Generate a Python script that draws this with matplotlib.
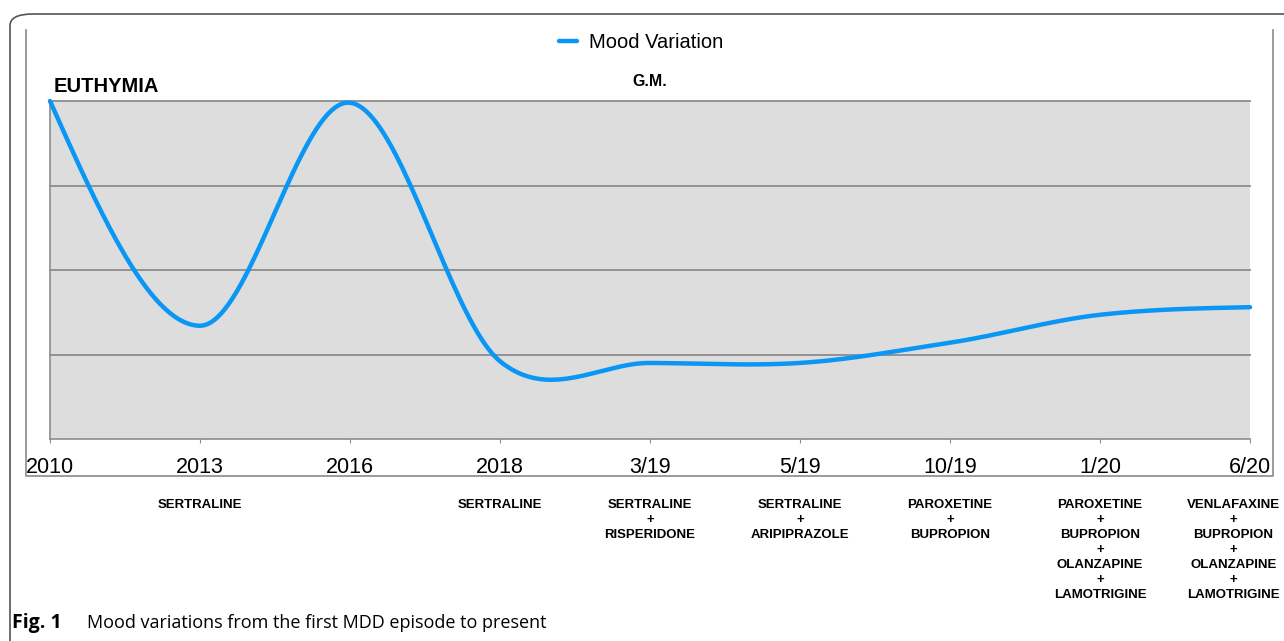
import numpy as np
import matplotlib
matplotlib.use("Agg")
import matplotlib.pyplot as plt
from matplotlib.patches import FancyBboxPatch
from matplotlib.lines import Line2D
import matplotlib.transforms as mtransforms

# data (mood level, 4 = euthymia)
periods = ["2010", "2013", "2016", "2018", "3/19", "5/19", "10/19", "1/20", "6/20"]
mood = [4.00, 1.34, 3.98, 0.92, 0.90, 0.90, 1.14, 1.47, 1.56]
treatments = [
    [],
    ["SERTRALINE"],
    [],
    ["SERTRALINE"],
    ["SERTRALINE", "RISPERIDONE"],
    ["SERTRALINE", "ARIPIPRAZOLE"],
    ["PAROXETINE", "BUPROPION"],
    ["PAROXETINE", "BUPROPION", "OLANZAPINE", "LAMOTRIGINE"],
    ["VENLAFAXINE", "BUPROPION", "OLANZAPINE", "LAMOTRIGINE"],
]

W, H = 1284, 641
BLUE = "#0a96f5"
plt.rcParams["font.family"] = ["Liberation Sans", "DejaVu Sans"]


def px(x, y):
    # pixel coords (top-left origin) -> figure fraction
    return x / W, 1 - y / H


def smooth(xs, ys, n=40):
    # cubic hermite curve through the points (catmull-rom tangents, natural ends)
    xs = np.asarray(xs, float)
    ys = np.asarray(ys, float)
    m = np.zeros_like(ys)
    m[1:-1] = 0.47 * (ys[2:] - ys[:-2])
    m[0] = 1.5 * (ys[1] - ys[0]) - m[1] / 2
    m[-1] = 1.5 * (ys[-1] - ys[-2]) - m[-2] / 2
    out_x, out_y = [], []
    for i in range(len(xs) - 1):
        t = np.linspace(0, 1, n, endpoint=(i == len(xs) - 2))
        h00 = 2 * t**3 - 3 * t**2 + 1
        h10 = t**3 - 2 * t**2 + t
        h01 = -2 * t**3 + 3 * t**2
        h11 = t**3 - t**2
        out_x.append(xs[i] + t * (xs[i + 1] - xs[i]))
        out_y.append(h00 * ys[i] + h10 * m[i] + h01 * ys[i + 1] + h11 * m[i + 1])
    return np.concatenate(out_x), np.concatenate(out_y)


fig = plt.figure(figsize=(W / 100, H / 100), dpi=100)
fig.patch.set_facecolor("white")

# outer rounded frame and inner image frame
l, b = px(10, 660)
r, t = px(1310, 14)
fig.patches.append(FancyBboxPatch((l, b), r - l, t - b, boxstyle="round,pad=0,rounding_size=0.018",
                                  transform=fig.transFigure, fill=False, ec="#555555", lw=1.2))
fx = [px(26, 30)[0], px(26, 476)[0], px(1273, 476)[0], px(1273, 30)[0]]
fy = [px(26, 30)[1], px(26, 476)[1], px(1273, 476)[1], px(1273, 30)[1]]
fig.lines.append(Line2D(fx, fy, transform=fig.transFigure, color="#8a8a8a", lw=1.2))

# plot area
x0, y0 = px(50, 439)
x1, y1 = px(1250, 101)
ax = fig.add_axes([x0, y0, x1 - x0, y1 - y0])
ax.set_facecolor("#dddddd")
x = np.arange(len(periods))
ax.set_xlim(0, len(periods) - 1)
ax.set_ylim(0, 4)
for lvl in [1, 2, 3, 4]:
    ax.axhline(lvl, color="#8c8c8c", lw=1.3, zorder=1, clip_on=False)

cx, cy = smooth(x, mood)
ax.plot(cx, cy, color=BLUE, lw=3.2, solid_capstyle="round", zorder=3, clip_on=False,
        label="Mood Variation")

for side in ["top", "right"]:
    ax.spines[side].set_visible(False)
ax.spines["left"].set_color("#8c8c8c")
ax.spines["bottom"].set_color("#8c8c8c")
ax.spines["left"].set_linewidth(1.2)
ax.spines["bottom"].set_linewidth(1.2)
ax.set_yticks([])
ax.set_xticks(x)
ax.set_xticklabels(periods, fontsize=15.5)
ax.tick_params(axis="x", length=3, color="#8c8c8c", pad=10)

# treatment labels under each time point
trans = mtransforms.blended_transform_factory(ax.transData, fig.transFigure)
for i, drugs in enumerate(treatments):
    if not drugs:
        continue
    xi = x[i] if i < len(x) - 1 else x[i] - 0.11
    for j, line in enumerate(" + ".join(drugs).split(" ")):
        ax.text(xi, px(0, 505 + 15 * j)[1], line, transform=trans, ha="center", va="center",
                fontsize=9.5, fontweight="bold",
                family=["Liberation Sans Narrow", "Liberation Sans", "DejaVu Sans"])

# titles and legend
fig.text(*px(54, 86), "EUTHYMIA", fontsize=14.5, fontweight="bold", ha="left", va="center")
fig.text(*px(650, 82), "G.M.", fontsize=11.5, fontweight="bold", ha="center", va="center")
ax.legend(loc="center", bbox_to_anchor=px(641, 43), bbox_transform=fig.transFigure,
          frameon=False, fontsize=14.5, handlelength=0.9, handletextpad=0.6)

# caption
fig.text(*px(12, 623), "Fig. 1", fontsize=14, fontweight="bold", ha="left", va="center",
         family=["Open Sans", "DejaVu Sans"])
fig.text(*px(87, 623), "Mood variations from the first MDD episode to present", fontsize=13,
         ha="left", va="center", family=["Open Sans", "DejaVu Sans"])

fig.savefig("out.png", dpi=100)
